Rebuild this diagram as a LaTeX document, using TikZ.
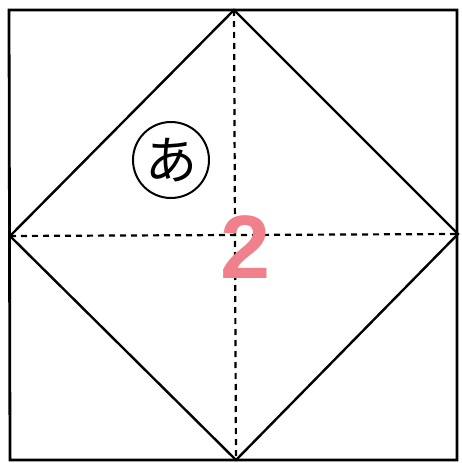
\documentclass[tikz,border=0pt]{standalone}
\usepackage{fontspec}
\setmainfont{Liberation Sans}
\newfontfamily\jpfont{Noto Sans CJK JP}
\definecolor{numpink}{RGB}{240,128,140}
\begin{document}
\begin{tikzpicture}[x=1pt,y=-1pt,
  edge/.style={line width=2.4pt,line join=miter},
  frame/.style={line width=2.8pt},
  fold/.style={line width=2.2pt,dash pattern=on 6pt off 5pt},
  marker/.style={circle,draw,line width=2pt,minimum size=76pt,inner sep=0pt,font=\jpfont\fontsize{52}{52}\selectfont},
  numlabel/.style={text=numpink,font=\bfseries\fontsize{90}{90}\selectfont,inner sep=0pt}]
\useasboundingbox (0,0) rectangle (461,463);
\coordinate (tl) at (9,10);
\coordinate (tr) at (457,10);
\coordinate (br) at (457,460);
\coordinate (bl) at (10,460);
\coordinate (t) at (234,10);
\coordinate (r) at (458,234);
\coordinate (b) at (236,460);
\coordinate (l) at (10,236);
\draw[frame] (tl) -- (tr) -- (br) -- (bl) -- cycle;
\draw[edge] (t) -- (r) -- (b) -- (l) -- cycle;
\draw[fold] (t) -- (b);
\draw[fold] (l) -- (r);
\node[marker] (a) at (171,160) {あ};
\node[numlabel] (two) at (246,247) {2};
\end{tikzpicture}
\end{document}
